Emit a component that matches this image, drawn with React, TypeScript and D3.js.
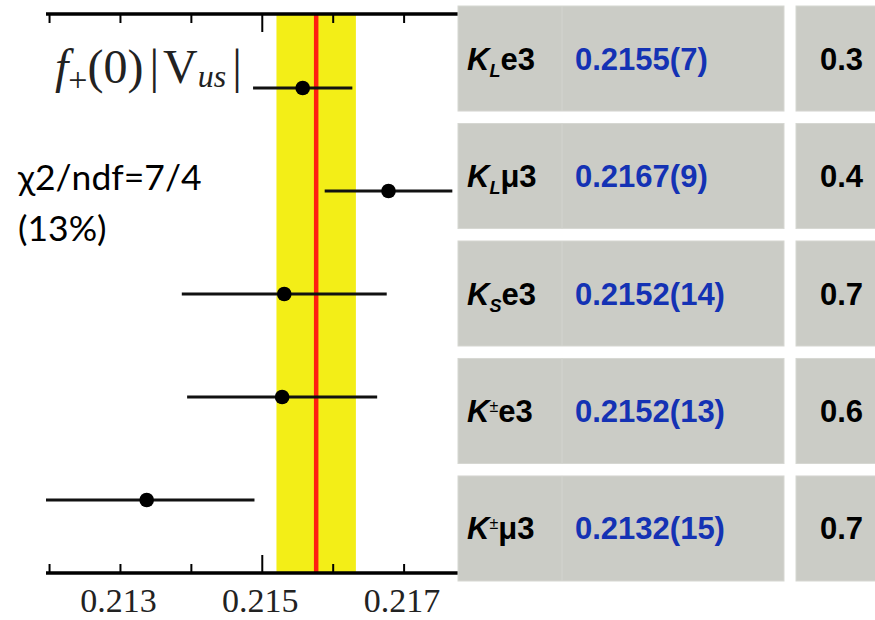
import React from "react";
import * as d3 from "d3";

// ---- data ----
const channels = ["KLe3", "KLmu3", "KSe3", "Kpme3", "Kpmmu3"];
const centralValues = [0.21557, 0.21678, 0.21531, 0.21528, 0.21337];
const errorValues = [0.0007, 0.0009, 0.001445, 0.00134, 0.00152];
const labelSub = ["L", "L", "S", "±", "±"];
const labelSubKind = ["sub", "sub", "sub", "sup", "sup"];
const labelTail = ["e3", "μ3", "e3", "e3", "μ3"];
const tableValues = ["0.2155(7)", "0.2167(9)", "0.2152(14)", "0.2152(13)", "0.2132(15)"];
const thirdColumn = ["0.3", "0.4", "0.7", "0.6", "0.7"];
const averageValue = 0.21576;
const averageError = 0.00056;
const tickValues = [0.212, 0.213, 0.214, 0.215, 0.216, 0.217];
const majorTick = 0.215;
const tickLabels = [0.213, 0.215, 0.217];
const xDomain = [0.21195, 0.21776];

export default function App() {
  const W = 875, H = 620;
  const left = 46, right = 458, top = 14, bottom = 573;
  const x = d3.scaleLinear().domain(xDomain).range([left, right]);
  const y = d3.scalePoint<string>().domain(channels).range([88, 500]);
  const rowBand = d3.scaleBand<string>().domain(channels).range([6, 581]).paddingInner(0.106).paddingOuter(0);
  const fmt = d3.format(".3f");
  const gray = "#cbccc6";
  const blue = "#1432b4";
  const sans = "Arial, 'Liberation Sans', sans-serif";

  return (
    <svg width={W} height={H} style={{ position: "absolute", left: 0, top: 0, background: "#fff" }}>
      <defs>
        <clipPath id="plotclip">
          <rect x={left} y={top} width={right - left} height={bottom - top} />
        </clipPath>
      </defs>
      {/* average band */}
      <rect x={x(averageValue - averageError)} y={top} width={x(averageValue + averageError) - x(averageValue - averageError)} height={bottom - top} fill="#f3ee17" />
      <line x1={x(averageValue)} x2={x(averageValue)} y1={top} y2={bottom} stroke="#ff1f10" strokeWidth={4.5} />

      {/* points */}
      <g clipPath="url(#plotclip)">
        {channels.map((c, i) => (
          <g key={c}>
            <line x1={x(centralValues[i] - errorValues[i])} x2={x(centralValues[i] + errorValues[i])} y1={y(c)} y2={y(c)} stroke="#111" strokeWidth={3} />
            <circle cx={x(centralValues[i])} cy={y(c)} r={7.3} fill="#000" />
          </g>
        ))}
      </g>

      {/* axes */}
      <line x1={left} x2={right} y1={top} y2={top} stroke="#000" strokeWidth={3.5} />
      <line x1={left} x2={right} y1={bottom} y2={bottom} stroke="#000" strokeWidth={3.5} />
      {tickValues.map((t) => {
        const len = Math.abs(t - majorTick) < 1e-9 ? 18 : 9;
        return (
          <g key={t}>
            <line x1={x(t)} x2={x(t)} y1={top} y2={top + len} stroke="#000" strokeWidth={2} />
            <line x1={x(t)} x2={x(t)} y1={bottom} y2={bottom - len} stroke="#000" strokeWidth={2} />
          </g>
        );
      })}
      {tickLabels.map((t) => (
        <text key={t} x={x(t) - 2} y={612} textAnchor="middle" fontFamily="'Liberation Serif', 'DejaVu Serif', serif" fontSize={34} fill="#222">
          {fmt(t)}
        </text>
      ))}

      {/* y label */}
      <text x={55} y={83} fontFamily="'Liberation Serif', serif" fontSize={48} fill="#222">
        <tspan fontStyle="italic">f</tspan>
        <tspan fontSize={34} dy={8}>+</tspan>
        <tspan dy={-8}>(0)</tspan>
        <tspan dx={6}>|</tspan>
        <tspan dx={4}>V</tspan>
        <tspan fontStyle="italic" fontSize={32} dy={4}>us</tspan>
        <tspan dx={6} dy={-4}>|</tspan>
      </text>

      {/* chi2 annotation */}
      <text x={18} y={190} fontFamily="Lato, 'Open Sans', sans-serif" fontSize={35.5} fill="#000">χ2/ndf=7/4</text>
      <text x={18} y={241} fontFamily="Lato, 'Open Sans', sans-serif" fontSize={35.5} fill="#000">(13%)</text>

      {/* table */}
      {channels.map((c, i) => {
        const ty = rowBand(c)!;
        const bw = rowBand.bandwidth();
        const base = ty + bw / 2 + 11;
        const isSup = labelSubKind[i] === "sup";
        return (
          <g key={c}>
            <rect x={458} y={ty} width={326} height={bw} fill={gray} stroke="#d6d7d2" strokeWidth={1} />
            <line x1={562} x2={562} y1={ty} y2={ty + bw} stroke="#d3d4cf" strokeWidth={1} />
            <rect x={796} y={ty} width={85} height={bw} fill={gray} stroke="#d6d7d2" strokeWidth={1} />
            <text x={467} y={base} fontFamily={sans} fontWeight="bold" fontSize={31} fill="#000">
              <tspan fontStyle="italic">K</tspan>
              <tspan fontStyle="italic" fontSize={isSup ? 16 : 18} fontWeight={isSup ? "normal" : "bold"} dy={isSup ? -10 : 7}>{labelSub[i]}</tspan>
              <tspan dy={isSup ? 10 : -7}>{labelTail[i]}</tspan>
            </text>
            <text x={575} y={base} fontFamily={sans} fontWeight="bold" fontSize={31} fill={blue}>
              {tableValues[i]}
            </text>
            <text x={820} y={base} fontFamily={sans} fontWeight="bold" fontSize={31} fill="#000">
              {thirdColumn[i]}
            </text>
          </g>
        );
      })}
    </svg>
  );
}
